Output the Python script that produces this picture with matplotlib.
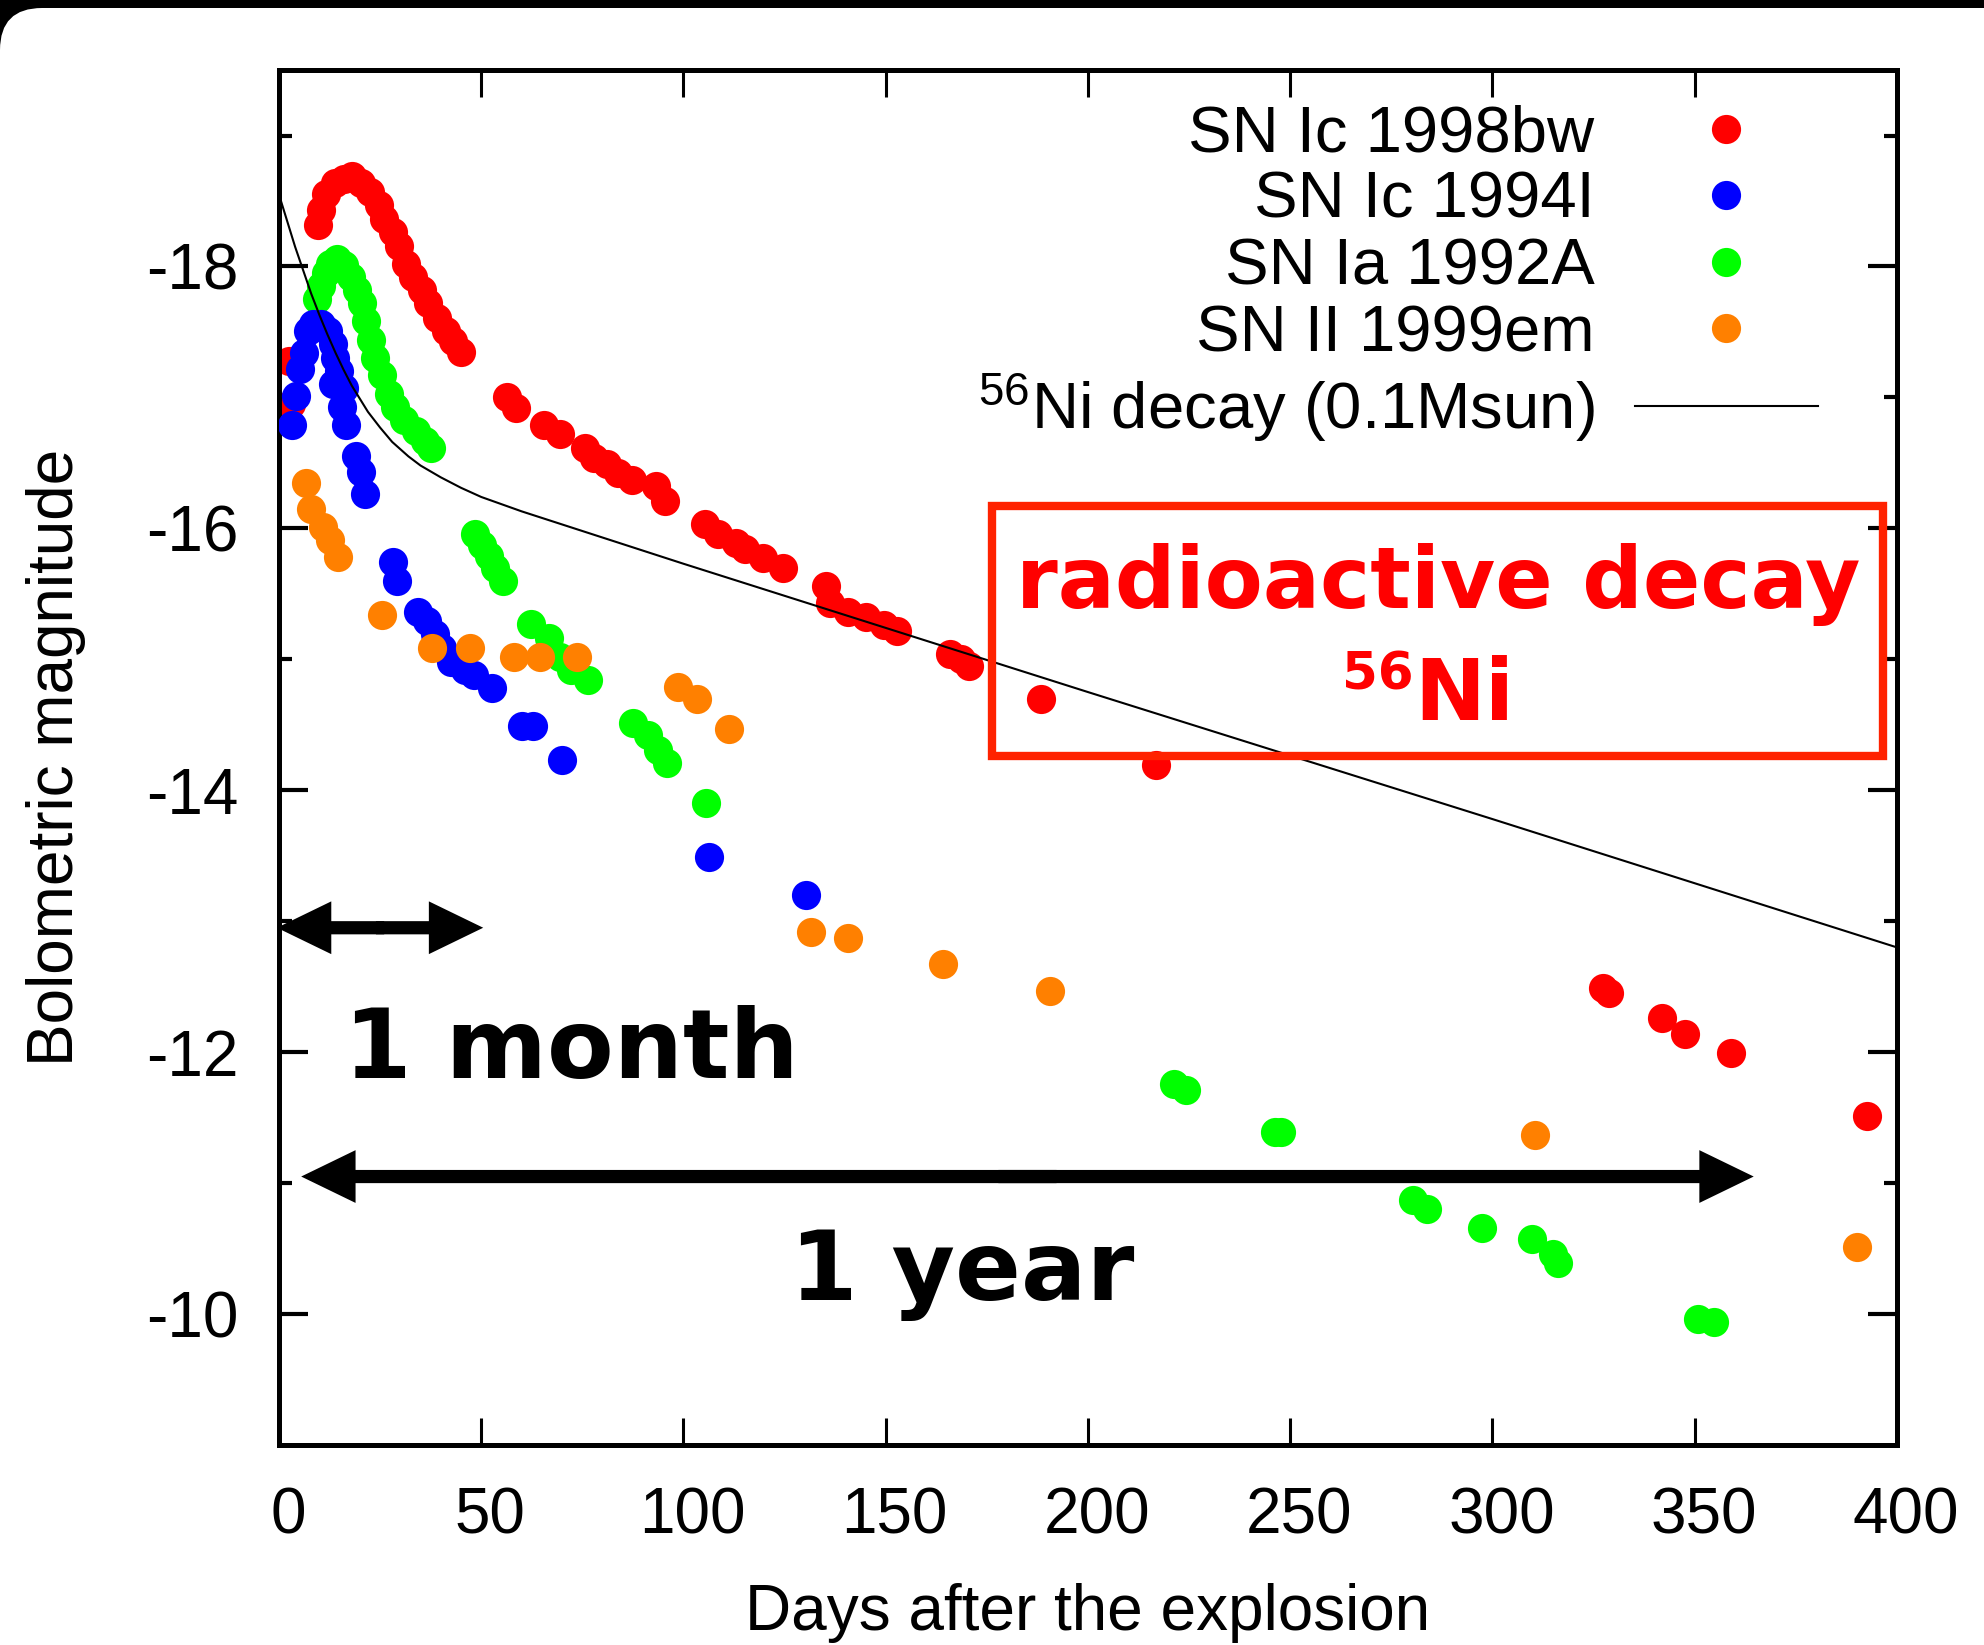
import matplotlib.pyplot as plt
from matplotlib.patches import Rectangle, FancyBboxPatch
from matplotlib.transforms import IdentityTransform, ScaledTranslation

plt.rcParams['font.family'] = ['Liberation Sans', 'DejaVu Sans']
plt.rcParams['mathtext.fontset'] = 'custom'
plt.rcParams['mathtext.rm'] = 'Liberation Sans'
plt.rcParams['mathtext.it'] = 'Liberation Sans:italic'
plt.rcParams['mathtext.bf'] = 'Liberation Sans:bold'
plt.rcParams['axes.unicode_minus'] = False

# SN Ic 1998bw
bw_day = [2.5, 3.0, 9.6, 10.5, 11.6, 13.8, 16.0, 18.0, 20.4, 22.6, 24.8, 25.9,
          28.1, 29.8, 31.4, 33.1, 35.3, 36.9, 39.1, 41.3, 43.0, 44.9, 56.3, 58.7,
          65.6, 69.5, 75.6, 77.8, 81.1, 83.9, 87.2, 93.2, 95.4, 105.3, 108.6,
          113.1, 115.3, 119.7, 124.7, 135.3, 136.3, 140.8, 145.2, 149.6, 152.9,
          165.9, 168.5, 170.5, 188.4, 216.8, 327.3, 328.8, 342.0, 347.7, 359.1,
          392.5]
bw_mag = [-17.28, -16.95, -18.32, -18.43, -18.55, -18.64, -18.67, -18.69, -18.64,
          -18.57, -18.47, -18.36, -18.26, -18.16, -18.02, -17.92, -17.82, -17.72,
          -17.61, -17.51, -17.43, -17.35, -17.00, -16.92, -16.79, -16.72, -16.61,
          -16.54, -16.49, -16.42, -16.37, -16.32, -16.21, -16.03, -15.96, -15.89,
          -15.84, -15.77, -15.70, -15.56, -15.43, -15.36, -15.32, -15.26, -15.22,
          -15.04, -15.00, -14.95, -14.70, -14.19, -12.49, -12.45, -12.26, -12.14,
          -11.99, -11.51]

# SN Ic 1994I
i94_day = [3.3, 4.1, 5.2, 6.1, 7.2, 8.3, 10.5, 12.2, 13.3, 13.3, 13.8, 14.9,
           15.5, 16.0, 16.6, 19.0, 20.2, 21.2, 28.2, 29.3, 34.3, 36.5, 38.7, 40.4,
           42.6, 45.9, 48.2, 52.6, 60.1, 62.9, 70.1, 106.4, 130.2]
i94_mag = [-16.79, -17.01, -17.22, -17.34, -17.51, -17.56, -17.56, -17.51, -17.41,
           -17.10, -17.30, -17.20, -16.93, -17.07, -16.79, -16.55, -16.43, -16.26,
           -15.74, -15.60, -15.36, -15.29, -15.19, -15.09, -14.98, -14.92, -14.88,
           -14.78, -14.49, -14.49, -14.23, -13.49, -13.20]

# SN Ia 1992A
a92_day = [9.4, 10.5, 11.6, 12.7, 14.4, 16.0, 17.7, 19.4, 20.5, 21.6, 22.7, 23.8,
           25.5, 27.1, 28.8, 31.0, 33.8, 36.0, 37.7, 48.5, 50.2, 51.9, 53.5, 55.4,
           62.4, 66.8, 69.5, 72.3, 76.4, 87.6, 91.3, 93.8, 96.0, 105.7, 221.4,
           224.2, 246.2, 247.7, 280.3, 283.8, 297.4, 309.7, 315.0, 316.3, 350.9,
           354.7]
a92_mag = [-17.75, -17.85, -17.95, -18.02, -18.06, -18.01, -17.92, -17.82, -17.72,
           -17.58, -17.44, -17.30, -17.17, -17.03, -16.93, -16.83, -16.74, -16.67,
           -16.61, -15.96, -15.87, -15.79, -15.70, -15.60, -15.27, -15.16, -15.02,
           -14.92, -14.84, -14.51, -14.42, -14.31, -14.21, -13.90, -11.76, -11.71,
           -11.39, -11.39, -10.87, -10.80, -10.66, -10.57, -10.46, -10.39, -9.96,
           -9.94]

# SN II 1999em
em_day = [6.6, 8.0, 11.0, 12.7, 14.5, 25.4, 37.9, 47.3, 58.2, 64.6, 73.8, 98.6,
          103.4, 111.3, 131.5, 140.6, 164.2, 190.7, 310.6, 390.1]
em_mag = [-16.35, -16.15, -16.01, -15.91, -15.78, -15.34, -15.09, -15.09, -15.02,
          -15.02, -15.02, -14.79, -14.70, -14.47, -12.92, -12.87, -12.67, -12.47,
          -11.37, -10.51]

# 56Ni -> 56Co -> 56Fe decay curve for 0.1 Msun
ni_day = [0, 2, 4, 6, 8, 10, 12, 14, 16, 18, 20, 22, 25, 28, 32, 35, 40, 45, 50,
          60, 70, 80, 100, 150, 200, 300, 400]
ni_mag = [-18.55, -18.35, -18.15, -17.97, -17.79, -17.63, -17.48, -17.34, -17.21,
          -17.09, -16.99, -16.89, -16.77, -16.66, -16.55, -16.48, -16.39, -16.31,
          -16.24, -16.13, -16.03, -15.93, -15.73, -15.24, -14.75, -13.78, -12.80]

xticks = [0, 50, 100, 150, 200, 250, 300, 350, 400]
yticks = [-18, -16, -14, -12, -10]
yminor = [-19, -17, -15, -13, -11]

fig = plt.figure(figsize=(19.84, 16.45), dpi=100, facecolor='black')
# white slide with a rounded top-left corner
fig.add_artist(FancyBboxPatch((0, -300), 2400, 1637 + 300,
                              boxstyle='round,pad=0,rounding_size=42',
                              transform=IdentityTransform(), fc='white',
                              ec='none', zorder=-10))

ax = fig.add_axes([0.1406, 0.1216, 0.8155, 0.8358])

ms = 21
h_bw, = ax.plot(bw_day, bw_mag, 'o', color='#ff0000', ms=ms, mew=0, zorder=2,
                label='SN Ic 1998bw')
h_a92, = ax.plot(a92_day, a92_mag, 'o', color='#00ff00', ms=ms, mew=0, zorder=3,
                 label='SN Ia 1992A')
h_i94, = ax.plot(i94_day, i94_mag, 'o', color='#0000ff', ms=ms, mew=0, zorder=4,
                 label='SN Ic 1994I')
h_em, = ax.plot(em_day, em_mag, 'o', color='#ff8000', ms=ms, mew=0, zorder=5,
                label='SN II 1999em')
h_ni, = ax.plot(ni_day, ni_mag, '-', color='black', lw=1.5, zorder=6,
                label='$^{56}$Ni decay (0.1Msun)')

ax.set_xlim(0, 400)
ax.set_ylim(-9, -19.5)
ax.set_xticks(xticks)
ax.set_yticks(yticks)
ax.set_yticks(yminor, minor=True)

for s in ax.spines.values():
    s.set_linewidth(3.6)
ax.tick_params(axis='x', which='major', direction='in', top=True, length=19.5,
               width=2.2, labelsize=46, pad=30)
ax.tick_params(axis='y', which='major', direction='in', right=True, length=21,
               width=3, labelsize=46, pad=29)
ax.tick_params(axis='y', which='minor', direction='in', right=True, length=9.5,
               width=3)
# x tick labels sit slightly right of their ticks
shift = ScaledTranslation(0.09, 0, fig.dpi_scale_trans)
for lab in ax.get_xticklabels():
    lab.set_transform(lab.get_transform() + shift)

ax.set_xlabel('Days after the explosion', fontsize=46)
ax.set_ylabel('Bolometric magnitude', fontsize=46)
ax.xaxis.set_label_coords(0.5, -0.1225)
ax.xaxis.label.set_va('center')
ax.yaxis.set_label_coords(-0.1378, 0.5)
ax.yaxis.label.set_va('center')

ax.legend(handles=[h_bw, h_i94, h_a92, h_em, h_ni], loc='upper right',
          bbox_to_anchor=(0.951, 0.975), frameon=False, markerfirst=False,
          fontsize=47, numpoints=1, handlelength=2.8, handletextpad=0.62,
          labelspacing=0.1, borderpad=0, borderaxespad=0)

# 1 month / 1 year spans, drawn as two halves meeting in the middle
def span_arrow(x0, x1, y):
    xm = 0.5 * (x0 + x1)
    ov = 0.02 * (x1 - x0)
    for xs, xe in ((xm + ov, x0), (xm - ov, x1)):
        ax.annotate('', xy=(xe, y), xytext=(xs, y), annotation_clip=False,
                    arrowprops=dict(arrowstyle='simple,head_length=1.03,'
                                               'head_width=1.0,tail_width=0.25',
                                    mutation_scale=38, fc='black', ec='none',
                                    shrinkA=0, shrinkB=0), zorder=7)

span_arrow(-0.5, 50.5, -12.95)
span_arrow(5.5, 364.6, -11.05)

big = dict(family=['DejaVu Sans'], fontweight='bold', fontsize=70,
           ha='center', va='baseline', zorder=8)
ax.text(72.4, -11.80, '1 month', **big)
ax.text(169, -10.11, '1 year', **big)

# radioactive decay box
ax.add_patch(Rectangle((176.3, -16.17), 220.2, 1.91, fill=False,
                       ec='#ff2200', lw=6, zorder=7, clip_on=False))
red = dict(family=['DejaVu Sans'], fontweight='bold', color='#ff0000',
           va='baseline', zorder=8)
ax.text(286.5, -15.39, 'radioactive decay', fontsize=61, ha='center', **red)
ax.text(280.7, -14.54, 'Ni', fontsize=61, ha='left', **red)
ax.text(280.6, -14.77, '56', fontsize=37, ha='right', **red)

fig.savefig('out.png', dpi=100)
